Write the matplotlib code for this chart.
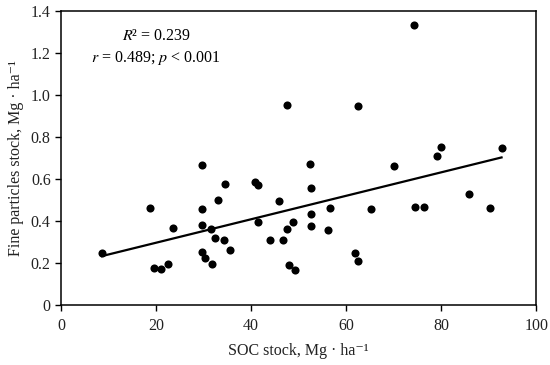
import numpy as np
import matplotlib
matplotlib.use("Agg")
import matplotlib.pyplot as plt

plt.rcParams['font.family'] = ['Liberation Serif', 'DejaVu Serif']
plt.rcParams['mathtext.fontset'] = 'stix'

# SOC stock (Mg/ha) and fine particles stock (Mg/ha)
soc = [8.6, 18.7, 19.5, 21.1, 22.5, 23.6, 29.7, 29.7, 29.7, 29.7,
       30.3, 31.7, 31.5, 32.3, 33.0, 34.4, 34.3, 35.5, 40.9, 41.4,
       41.4, 43.9, 45.9, 46.8, 47.6, 47.9, 49.3, 48.9, 52.3, 52.6,
       52.6, 52.6, 56.6, 56.1, 61.8, 62.5, 65.3, 70.0, 74.4, 76.3,
       79.2, 85.9, 90.3, 92.7, 74.2, 62.5, 79.9, 47.6]
fine = [0.246, 0.460, 0.176, 0.170, 0.197, 0.367, 0.668, 0.457, 0.382, 0.252,
        0.225, 0.197, 0.360, 0.321, 0.500, 0.576, 0.311, 0.263, 0.586, 0.570,
        0.394, 0.311, 0.495, 0.308, 0.362, 0.190, 0.167, 0.398, 0.671, 0.559,
        0.435, 0.376, 0.460, 0.356, 0.248, 0.210, 0.457, 0.662, 0.468, 0.467,
        0.710, 0.527, 0.460, 0.749, 1.335, 0.948, 0.754, 0.951]

x_ticks = [0, 20, 40, 60, 80, 100]
y_ticks = [0, 0.2, 0.4, 0.6, 0.8, 1.0, 1.2, 1.4]

x = np.array(soc)
y = np.array(fine)

fig = plt.figure(figsize=(5.5, 3.65), dpi=100)
ax = fig.add_axes([0.111, 0.164, 0.864, 0.806])

ax.scatter(x, y, s=34, color='black', zorder=3, linewidths=0)

# linear trend line over the data range
slope, intercept = np.polyfit(x, y, 1)
xs = np.array([x.min(), x.max()])
ax.plot(xs, slope * xs + intercept, color='black', lw=1.6, zorder=2)

ax.set_xlim(0, 100)
ax.set_ylim(0, 1.4)
ax.set_xticks(x_ticks)
ax.set_yticks(y_ticks)
ax.set_yticklabels(['0'] + [f'{v:.1f}' for v in y_ticks[1:]])
ax.tick_params(direction='out', length=4, width=1, labelsize=11.5,
               colors='black', labelcolor='#222222')
ax.tick_params(axis='x', pad=5)

for s in ax.spines.values():
    s.set_linewidth(1.1)

ax.set_xlabel('SOC stock, Mg · ha⁻¹', fontsize=11.5, labelpad=7, color='#222222')
ax.set_ylabel('Fine particles stock, Mg · ha⁻¹', fontsize=11.5, labelpad=5, color='#222222')

ax.text(0.2, 0.915, r'$R$² = 0.239', transform=ax.transAxes, ha='center', va='center', fontsize=11.5)
ax.text(0.2, 0.84, r'$r$ = 0.489; $p$ < 0.001', transform=ax.transAxes, ha='center', va='center', fontsize=11.5)

fig.savefig('out.png', dpi=100)
